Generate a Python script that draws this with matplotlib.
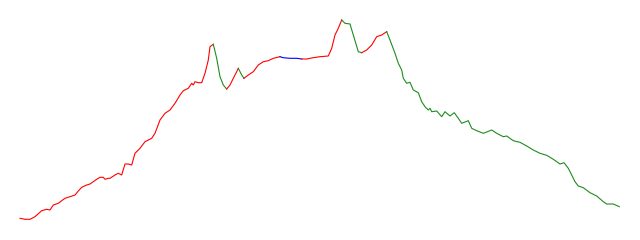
import numpy as np
import matplotlib
matplotlib.use("Agg")
import matplotlib.pyplot as plt

# profile: distance and height values
dist = [20, 25, 30, 35, 38, 41.7, 46.7, 50, 53.3, 58.3, 61.7, 65, 70, 75, 78.3, 81.7, 86.7, 90,
        93.3, 96.7, 100, 103.3, 105, 108.3, 110, 115, 118.3, 121.7, 125, 128.3, 131.7, 135,
        140, 145, 151.7, 155, 160, 165, 170, 175, 180, 183.3, 188.3, 191.7, 193.3, 195, 198.3,
        201.7, 205, 208.3, 210, 213.3,
        216.7, 220, 223.3, 226.7,
        230, 233.3, 236.7, 238.3,
        241.7, 244,
        248.3, 253.3, 258.3, 263.3, 268.3, 273.3, 280,
        283.3, 290, 296.7, 301.7,
        306.7, 313.3, 320, 328.3, 331.7, 335, 338.3, 341.7,
        345, 350, 353.3, 358.3, 361.7,
        366.7, 371.7, 376.7, 381.7, 386.7,
        390, 395, 398.3, 401.7, 403.3, 406.7, 410, 413.3, 418.3, 421.7, 425, 428.3, 430, 431.7,
        436.7, 441.7, 445, 450, 454.3, 458.3, 461.7, 468.3, 471.7, 476.7, 483.3, 491.7, 496.7,
        503.3, 506.7,
        513.3, 520, 526.7, 533.3, 540, 546.7, 553.3, 560, 564, 568.3, 571.7, 575, 578.3, 583.3,
        590, 596.7, 603.3, 606.7, 613.3, 619.3]
height = [21.7, 20.7, 20.7, 23.3, 26, 29.3, 30.7, 30, 35, 36.7, 39.3, 41.7, 43.3, 45, 49, 52.7,
          55, 56, 58.3, 60.7, 62.7, 62.7, 60.7, 61.7, 61.7, 65, 66.7, 65, 76, 76, 75, 86.7,
          91.7, 98.3, 101.7, 106.7, 120, 126.7, 130, 136.7, 145, 149.3, 151.7, 156.7, 155,
          158.3, 157.3, 157.3,
          166.7, 180, 193.3, 195.7,
          181.7, 163.3, 155, 151,
          155, 161.7, 168.3, 171.7,
          165, 161.7,
          165, 168.3, 175, 178.3, 179.3, 181.7, 183.3,
          182.3, 181.7, 181.7, 181,
          181, 182.3, 183.3, 184, 191.7, 205, 211.7, 220,
          216.7, 216, 205, 188.3, 187.3,
          190, 195, 203.3, 205, 208.3,
          200, 186.7, 176.7, 170, 161.7, 156.7, 157.7, 150, 147.3, 138.3, 133.3, 130, 131.7,
          128.3, 129, 123.3, 128.3, 124, 127.3, 121.7, 116.7, 119.3, 111.7, 109.3, 106.7, 110,
          106.7, 103.3, 104,
          99.3, 97.7, 94, 90, 86.7, 84.7, 80.7, 76, 77.3, 71.7, 65, 58.3, 54, 52.3,
          47.3, 44, 38.3, 36, 36, 33.3]

# trend regimes: (start, end, trend)
seg_start = [20, 213.3, 226.7, 238.3, 244, 280, 301.7, 341.7, 361.7, 386.7]
seg_end = [213.3, 226.7, 238.3, 244, 280, 301.7, 341.7, 361.7, 386.7, 619.3]
seg_trend = ['up', 'down', 'up', 'down', 'up', 'flat', 'up', 'down', 'up', 'down']

colors = {'up': '#ff0000', 'down': '#1e8c1e', 'flat': '#0000ff'}

x = np.array(dist)
y = np.array(height)

fig = plt.figure(figsize=(6.4, 2.4), dpi=100)
ax = fig.add_axes([0, 0, 1, 1])
for a, b, t in zip(seg_start, seg_end, seg_trend):
    m = (x >= a) & (x <= b)
    ax.plot(x[m], y[m], color=colors[t], linewidth=0.8)
ax.set_xlim(0, 640)
ax.set_ylim(0, 240)
ax.axis('off')
fig.savefig('out.png', dpi=100, facecolor='white')
